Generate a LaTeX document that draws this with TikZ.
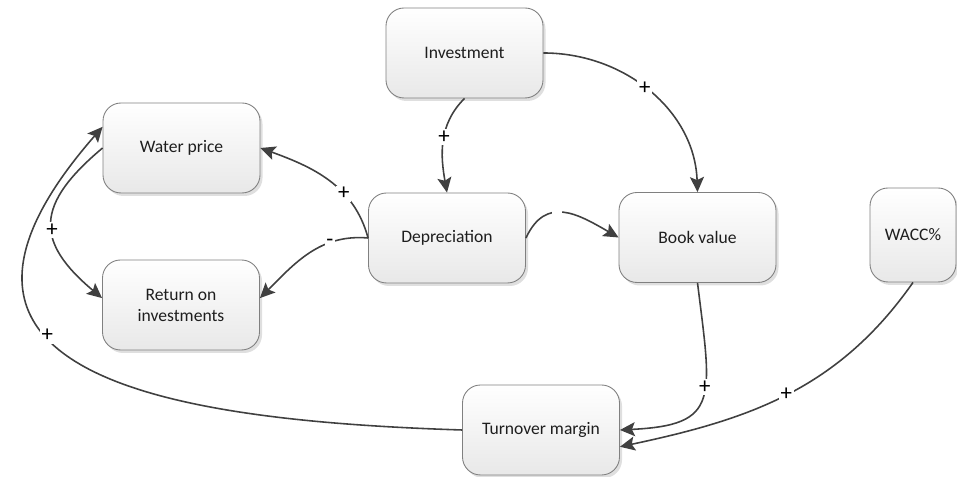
\documentclass[tikz,border=0pt]{standalone}
\usepackage{fontspec}
\setmainfont{Carlito}
\usepackage{tikz}
\usetikzlibrary{arrows.meta,shadows}
\usepackage{xcolor}
\definecolor{rim}{RGB}{128, 128, 128}
\definecolor{edge}{RGB}{64, 64, 64}
\definecolor{ink}{RGB}{30, 30, 30}

\begin{document}
\begin{tikzpicture}[
    box/.style={rectangle, rounded corners=3.6mm, draw=rim, line width=0.5pt,
                top color=white, bottom color=black!9, text=ink,
                minimum width=3.14cm, minimum height=1.8cm, align=center,
                font=\fontsize{10}{12}\selectfont,
                drop shadow={shadow xshift=0.5mm, shadow yshift=-0.6mm, opacity=0.25}},
    link/.style={-{Stealth[length=3mm, width=2.8mm, inset=0.6mm]}, line width=0.9pt, edge},
    sgn/.style={fill=white, inner sep=1pt, text=black, font=\fontsize{13}{14}\selectfont},
    gap/.style={fill=white, inner sep=0pt, minimum width=2mm, minimum height=2mm}
]
\useasboundingbox (0,0) rectangle (19.14,9.54);
\node[box] (inv) at (9.29,8.48) {Investment};
\node[box] (water) at (3.63,6.58) {Water price};
\node[box] (roi) at (3.62,3.44) {Return on\\investments};
\node[box] (dep) at (8.94,4.78) {Depreciation};
\node[box] (book) at (13.95,4.79) {Book value};
\node[box, minimum width=1.72cm, minimum height=1.88cm] (wacc) at (18.26,4.84) {WACC\%};
\node[box] (turn) at (10.82,0.94) {Turnover margin};

\draw[link] (inv.south) to[out=225,in=100] node[sgn,pos=0.45] {+} (dep.north);
\draw[link] (inv.east) to[out=0,in=92] node[sgn,pos=0.47] {+} (book.north);
\draw[link] (dep.west) to[out=105,in=-20] node[sgn,pos=0.35] {+} (water.east);
\draw[link] (dep.west) to[out=175,in=45] node[sgn,pos=0.3] {-} (roi.5);
\draw[link] (water.west) to[out=220,in=140,looseness=1.5] node[sgn,pos=0.55] {+} (roi.175);
\draw[link] (turn.west) .. controls (3.0,1.14) and (-2.2,2.14) .. node[sgn,pos=0.6] {+} (water.165);
\draw[link] (dep.east) to[out=65,in=150,looseness=1.3] node[gap,pos=0.42] {} (book.west);
\draw[link] (book.south) .. controls (14.24,1.54) and (14.40,1.04) .. node[sgn,pos=0.42] {+} (turn.east);
\draw[link] (wacc.south) to[out=-125,in=12] node[sgn,pos=0.5] {+} (turn.-12);
\end{tikzpicture}
\end{document}
